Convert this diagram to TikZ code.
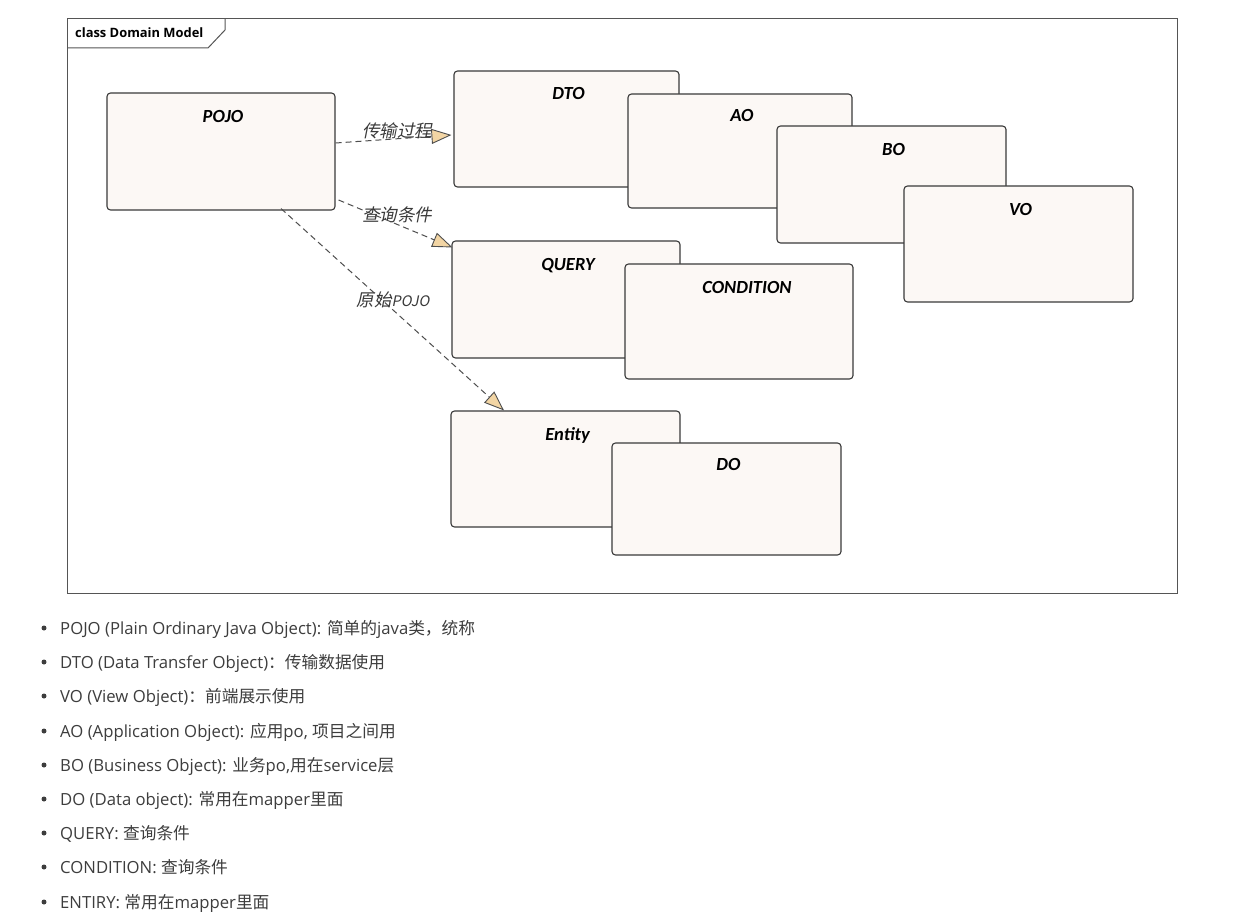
\documentclass[tikz,border=0pt]{standalone}
\usepackage{fontspec}
\usetikzlibrary{arrows.meta}
\newfontfamily\boxfont{Carlito}
\newfontfamily\uifont{Open Sans}
\newfontfamily\hanfont{Noto Sans CJK SC}
\newfontfamily\hanslant{Noto Sans CJK SC}[FakeSlant=0.2]
\definecolor{clsfill}{HTML}{FCF8F5}
\definecolor{clsline}{HTML}{3A3A3A}
\definecolor{headfill}{HTML}{F2D5A4}
\definecolor{framec}{HTML}{555555}
\definecolor{bodytext}{HTML}{3D3D3D}
\newcommand\hz[1]{{\hanfont #1}}
\tikzset{
  cls/.style={draw=clsline, fill=clsfill, line width=1.1pt, rounded corners=3.5pt, inner sep=0pt},
  clsname/.style={font=\boxfont\bfseries\itshape\fontsize{18.5}{21}\selectfont, text=black, anchor=base, inner sep=0pt, xshift=2pt},
  dep/.style={draw=clsline!90, line width=1pt, dash pattern=on 6pt off 4pt,
    -{Triangle[length=20pt, width=15pt, fill=headfill, line width=0.9pt]}},
  elab/.style={font=\hanslant\fontsize{17.5}{20}\selectfont, text=clsline, inner sep=0pt},
  item/.style={font=\uifont\fontsize{16.7}{20}\selectfont, text=bodytext, anchor=base west, inner sep=0pt},
  dot/.style={circle, fill=bodytext, inner sep=0pt, minimum size=5pt}
}
\begin{document}
\begin{tikzpicture}[x=1pt, y=-1pt]
\useasboundingbox[fill=white] (0,0) rectangle (1248,920);

% diagram frame and its name tab
\draw[framec, line width=1pt] (67,19) rectangle (1177,593);
\draw[framec, line width=1pt] (67,48) -- (208,48) -- (225,30) -- (225,19);
\node[font=\uifont\bfseries\fontsize{12.9}{15}\selectfont, anchor=base west, inner sep=0pt] (tab) at (75,38) {class Domain Model};

% classes
\node[cls, minimum width=228pt, minimum height=117pt] (pojo) at (221,151.5) {};
\node[clsname, yshift=-30pt] (pojo-n) at (pojo.north) {POJO};

\node[cls, minimum width=225pt, minimum height=116pt] (dto) at (566.5,129) {};
\node[clsname, yshift=-29pt] (dto-n) at (dto.north) {DTO};
\node[cls, minimum width=224pt, minimum height=114pt] (ao) at (740,151) {};
\node[clsname, yshift=-28.5pt] (ao-n) at (ao.north) {AO};
\node[cls, minimum width=229pt, minimum height=117pt] (bo) at (891.5,184.5) {};
\node[clsname, yshift=-30pt] (bo-n) at (bo.north) {BO};
\node[cls, minimum width=229pt, minimum height=116pt] (vo) at (1018.5,244) {};
\node[clsname, yshift=-30pt] (vo-n) at (vo.north) {VO};

\node[cls, minimum width=228pt, minimum height=117pt] (query) at (566,299.5) {};
\node[clsname, yshift=-30pt] (query-n) at (query.north) {QUERY};
\node[cls, minimum width=228pt, minimum height=115pt] (cond) at (739,321.5) {};
\node[clsname, yshift=-30pt, xshift=6pt] (cond-n) at (cond.north) {CONDITION};

\node[cls, minimum width=229pt, minimum height=116pt] (entity) at (565.5,469) {};
\node[clsname, yshift=-30pt] (entity-n) at (entity.north) {Entity};
\node[cls, minimum width=229pt, minimum height=112pt] (do) at (726.5,499) {};
\node[clsname, yshift=-28pt] (do-n) at (do.north) {DO};

% dependencies from POJO
\draw[dep] ([yshift=8.5pt]pojo.east) -- ([xshift=-2pt, yshift=-6pt]dto.west);
\draw[dep] ([xshift=3pt, yshift=-48.5pt]pojo.east) -- ([xshift=1pt, yshift=-7pt]query.north west);
\draw[dep] ([xshift=60pt, yshift=2pt]pojo.south) -- ([xshift=-61.5pt]entity.north);

\node[elab] (l-dto) at (397,131) {传输过程};
\node[elab] (l-query) at (397,215) {查询条件};
\node[elab] (l-entity) at (393,300) {原始{\fontsize{14.5}{16}\selectfont POJO}};

% glossary
\node[dot] (b1) at (44,628) {};
\node[item] (t1) at (60,634) {POJO (Plain Ordinary Java Object): \hz{简单的}java\hz{类，统称}};
\node[dot] (b2) at (44,662) {};
\node[item] (t2) at (60,668) {DTO (Data Transfer Object)\hz{：传输数据使用}};
\node[dot] (b3) at (44,696) {};
\node[item] (t3) at (60,702) {VO (View Object)\hz{：前端展示使用}};
\node[dot] (b4) at (44,731) {};
\node[item] (t4) at (60,737) {AO (Application Object): \hz{应用}po, \hz{项目之间用}};
\node[dot] (b5) at (44,765) {};
\node[item] (t5) at (60,771) {BO (Business Object): \hz{业务}po,\hz{用在}service\hz{层}};
\node[dot] (b6) at (44,799) {};
\node[item] (t6) at (60,805) {DO (Data object): \hz{常用在}mapper\hz{里面}};
\node[dot] (b7) at (44,833) {};
\node[item] (t7) at (60,839) {QUERY: \hz{查询条件}};
\node[dot] (b8) at (44,867) {};
\node[item] (t8) at (60,873) {CONDITION: \hz{查询条件}};
\node[dot] (b9) at (44,902) {};
\node[item] (t9) at (60,908) {ENTIRY: \hz{常用在}mapper\hz{里面}};
\end{tikzpicture}
\end{document}
